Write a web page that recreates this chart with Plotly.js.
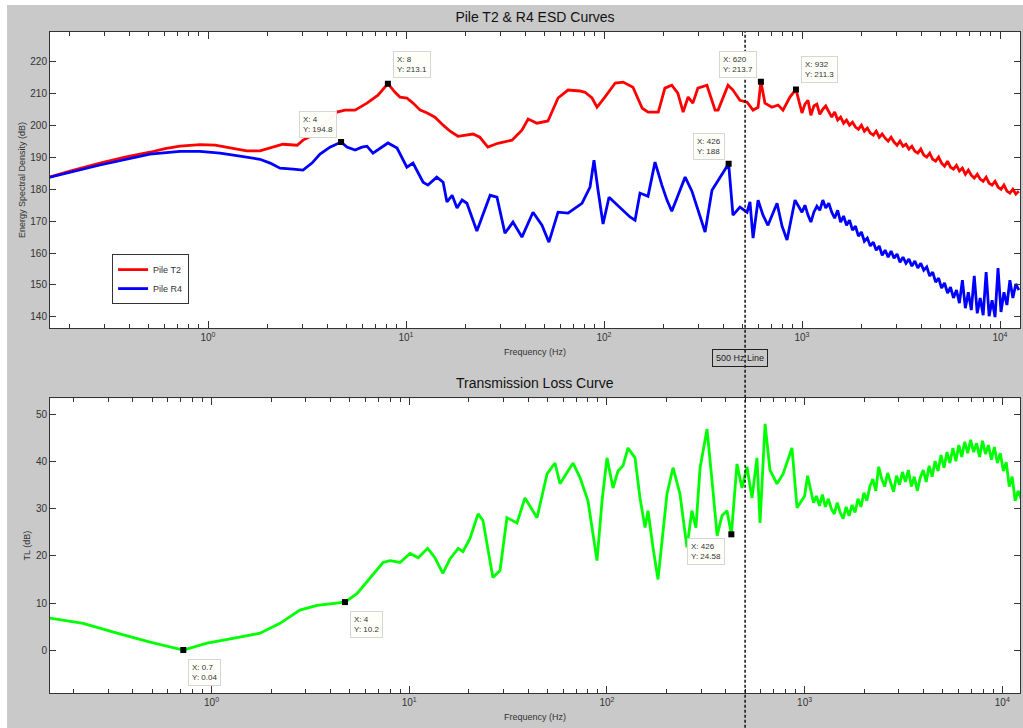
<!DOCTYPE html>
<html>
<head>
<meta charset="utf-8">
<script src="https://cdn.plot.ly/plotly-3.0.1.min.js"></script>
<style>
html, body { margin: 0; padding: 0; background: #ffffff; }
#chart { width: 1023px; height: 728px; }
</style>
</head>
<body>
<div id="chart"></div>
<script>
// ---------------- data ----------------
// Pile T2 energy spectral density, low / mid frequencies (Hz, dB)
const t2FreqLo = [0.159, 0.201, 0.285, 0.381, 0.509, 0.607, 0.722, 0.911, 1.085, 1.34,
  1.57, 1.83, 2.13, 2.39, 2.82, 3.02, 3.35, 4.0, 4.48, 4.92,
  5.53, 6.35, 7.22, 8.1, 8.8, 9.32, 10.1, 10.85, 11.8, 12.8,
  14.0, 15.4, 16.7, 18.3, 20.3, 21.8, 23.6, 25.9, 29.1, 34.3,
  38.5, 41.4, 45.9, 52.1, 58.6, 65.8, 75.6, 80.2, 87.0, 92.2,
  101, 114, 125, 140, 156, 167, 188, 203, 220, 236,
  251, 266, 281, 298, 331, 364, 377, 423, 448, 486,
  528, 566, 600, 620, 650, 705, 757, 802, 869, 932];
const t2EsdLo = [183.8, 185.7, 188.2, 190.1, 191.6, 192.7, 193.5, 194.0, 193.8, 192.9,
  192.0, 192.0, 193.2, 194.1, 193.8, 195.4, 196.8, 201.5, 204.2, 204.8,
  204.8, 207.0, 209.5, 213.1, 210.4, 208.9, 208.6, 207.0, 204.8, 203.9,
  202.6, 200.1, 198.2, 196.6, 197.0, 197.3, 196.3, 193.2, 194.4, 195.4,
  198.5, 202.0, 200.7, 201.4, 208.6, 211.1, 210.8, 210.4, 208.6, 205.7,
  208.9, 213.3, 213.6, 212.0, 205.4, 204.2, 204.2, 211.7, 212.6, 210.1,
  204.2, 208.9, 207.0, 211.7, 212.6, 204.8, 204.8, 212.6, 211.1, 207.9,
  207.3, 204.8, 205.7, 213.7, 207.0, 205.7, 206.4, 204.8, 208.9, 211.3];

// Pile R4 energy spectral density, low / mid frequencies (Hz, dB)
const r4FreqLo = [0.159, 0.285, 0.509, 0.722, 0.911, 1.15, 1.45, 1.83, 2.06, 2.31,
  2.69, 3.02, 3.35, 3.68, 4.13, 4.7, 5.03, 5.53, 5.99, 6.35,
  6.81, 7.39, 8.11, 9.01, 10.1, 10.85, 12.2, 12.9, 14.3, 15.4,
  16.1, 17.1, 18.1, 19.2, 20.3, 22.8, 26.6, 28.8, 31.6, 34.7,
  38.5, 43.8, 48.6, 52.7, 58.6, 65.8, 77.4, 85.0, 89.0, 93.3,
  98.9, 106, 120.5, 135.3, 143.5, 152, 166.8, 181, 196, 208,
  220, 234, 257, 278, 313, 324, 351, 377, 426, 448,
  486, 528, 546, 566, 600, 635, 673, 748, 793, 840,
  922];
const r4EsdLo = [183.8, 187.6, 191.0, 191.9, 191.9, 191.3, 190.4, 189.4, 188.2, 186.6,
  186.3, 186.0, 188.2, 191.0, 193.2, 194.8, 193.2, 192.3, 193.2, 193.5,
  191.3, 192.9, 194.5, 192.9, 186.9, 188.2, 182.2, 181.3, 183.8, 182.2,
  176.0, 178.1, 174.1, 176.6, 175.6, 166.9, 178.1, 177.5, 166.2, 169.7,
  165.0, 172.8, 168.7, 163.4, 172.8, 172.5, 175.6, 180.7, 189.1, 179.7,
  169.1, 177.5, 174.4, 171.3, 170.3, 178.8, 177.8, 188.5, 181.3, 176.6,
  173.1, 177.5, 183.8, 179.4, 169.4, 166.6, 179.7, 182.8, 188.0, 171.9,
  174.4, 172.8, 176.0, 164.7, 176.6, 171.9, 168.7, 175.6, 168.4, 164.1,
  176.6];

// Transmission loss, low / mid frequencies (Hz, dB)
const tlFreqLo = [0.152, 0.224, 0.333, 0.489, 0.72, 0.949, 1.285, 1.76, 2.22, 2.80,
  3.42, 4.12, 4.73, 5.44, 6.34, 7.37, 8.0, 8.98, 10.1, 11.1,
  12.4, 13.5, 14.8, 16.1, 17.7, 18.7, 20.3, 22.3, 23.6, 26.5,
  28.8, 31.2, 35.1, 38.5, 44.3, 49.8, 54.6, 57.9, 67.4, 73.1,
  80.2, 89.1, 94.5, 100.1, 107.4, 113.8, 120.6, 127.9, 138.7, 147.0,
  155.9, 161.4, 171.0, 181.3, 201.4, 216, 234, 254, 269, 282,
  296, 321, 344, 361, 382, 405, 426, 455, 482, 511,
  542, 574, 595, 631, 668, 725, 778, 863, 916];
const tlDbLo = [6.8, 5.7, 3.6, 1.7, 0.04, 1.5, 2.5, 3.6, 5.7, 8.5,
  9.5, 9.9, 10.2, 12.0, 15.4, 18.6, 19.0, 18.6, 20.5, 19.6,
  21.6, 19.6, 16.3, 19.4, 21.6, 20.9, 23.7, 28.9, 27.5, 15.4,
  16.9, 28.1, 27.0, 32.3, 28.1, 37.4, 39.7, 35.3, 39.7, 36.6,
  31.7, 19.0, 31.7, 40.8, 34.4, 38.0, 39.1, 42.9, 40.8, 32.3,
  26.0, 29.6, 21.8, 15.0, 33.2, 38.7, 33.2, 21.8, 29.6, 26.0,
  38.7, 46.9, 33.8, 24.3, 28.5, 29.6, 24.58, 39.5, 34.4, 38.9,
  32.3, 40.8, 27.0, 48.0, 38.2, 35.3, 37.4, 42.9, 30.2];

// High-frequency bins shared by all three curves (Hz)
const freqHi = [1000, 1035, 1072, 1109, 1148, 1189, 1230, 1274, 1318, 1365,
  1413, 1462, 1514, 1567, 1622, 1679, 1738, 1799, 1862, 1928,
  1995, 2065, 2138, 2213, 2291, 2371, 2455, 2541, 2630, 2723,
  2818, 2917, 3020, 3126, 3236, 3350, 3467, 3589, 3715, 3846,
  3981, 4121, 4266, 4416, 4571, 4732, 4898, 5070, 5248, 5433,
  5623, 5821, 6026, 6237, 6457, 6683, 6918, 7161, 7413, 7674,
  7943, 8222, 8511, 8810, 9120, 9441, 9772, 10116, 10471, 10839,
  11220, 11614, 12023, 12445];
const t2EsdHi = [203.9, 206.7, 207.9, 203.2, 206.1, 206.7, 203.5, 205.1, 206.1, 204.2,
  202.6, 204.2, 201.7, 202.6, 200.7, 201.7, 200.1, 201.0, 199.5, 198.8,
  200.1, 198.2, 199.2, 197.6, 197.0, 198.2, 196.3, 197.3, 196.0, 195.1,
  196.3, 194.8, 193.8, 195.1, 193.5, 194.1, 192.6, 193.5, 191.9, 191.3,
  192.6, 190.7, 190.1, 191.3, 189.4, 188.8, 190.1, 188.2, 187.2, 188.8,
  186.9, 186.3, 187.5, 185.7, 186.6, 184.7, 186.0, 184.4, 183.5, 184.7,
  183.2, 182.5, 183.8, 181.9, 181.3, 182.5, 180.7, 180.0, 181.3, 179.4,
  178.8, 180.0, 178.5, 179.4];
const r4EsdHi = [172.8, 175.0, 171.9, 169.7, 172.8, 174.7, 173.4, 176.6, 174.1, 175.6,
  172.8, 170.9, 173.4, 169.7, 171.6, 168.7, 170.3, 167.2, 168.4, 165.3,
  166.6, 163.7, 164.7, 162.2, 163.4, 160.9, 162.2, 159.3, 160.9, 158.7,
  160.6, 158.4, 159.7, 157.1, 158.7, 156.8, 158.1, 155.9, 157.5, 155.3,
  156.8, 154.6, 155.6, 152.8, 154.0, 150.9, 152.1, 149.0, 150.6, 147.4,
  149.3, 145.9, 148.4, 144.3, 151.5, 142.7, 147.7, 142.1, 152.8, 141.1,
  145.9, 140.5, 154.0, 140.2, 145.2, 139.9, 155.3, 141.5, 147.7, 143.7,
  151.5, 145.9, 150.3, 148.4];
const tlDbHi = [32.7, 37.0, 33.8, 31.3, 32.7, 30.6, 33.0, 30.4, 32.1, 30.0,
  28.9, 31.3, 29.2, 27.9, 30.4, 28.5, 30.8, 29.2, 32.1, 30.4,
  33.4, 31.7, 34.7, 36.3, 33.8, 38.9, 36.3, 34.7, 37.6, 35.3,
  33.6, 37.0, 35.1, 37.8, 35.7, 38.2, 34.7, 36.8, 33.8, 36.6,
  38.2, 35.7, 39.1, 36.8, 40.1, 38.0, 41.4, 38.7, 42.0, 39.7,
  42.9, 40.1, 43.5, 41.0, 44.2, 41.8, 44.6, 42.0, 43.9, 41.0,
  44.4, 41.6, 43.5, 40.4, 43.1, 39.7, 41.8, 38.0, 39.9, 34.7,
  36.8, 31.7, 33.8, 32.1];

// Data tips
const esdTipFreq = [8.1, 620, 932, 4.7, 426];
const esdTipVal = [213.1, 213.7, 211.3, 194.8, 188];
const esdTipText = ['X: 8<br>Y: 213.1', 'X: 620<br>Y: 213.7', 'X: 932<br>Y: 211.3', 'X: 4<br>Y: 194.8', 'X: 426<br>Y: 188'];
const tlTipFreq = [0.72, 4.73, 426];
const tlTipVal = [0.04, 10.2, 24.58];
const tlTipText = ['X: 0.7<br>Y: 0.04', 'X: 4<br>Y: 10.2', 'X: 426<br>Y: 24.58'];

// Reference line
const lineFreq = 500;
const lineLabel = '500 Hz Line';

// Axis tick labels
const decadeTicks = [1, 10, 100, 1000, 10000];
const decadeLabels = ['10<sup>0</sup>', '10<sup>1</sup>', '10<sup>2</sup>', '10<sup>3</sup>', '10<sup>4</sup>'];
const esdTicks = [140, 150, 160, 170, 180, 190, 200, 210, 220];
const tlTicks = [0, 10, 20, 30, 40, 50];

// ---------------- styling / layout ----------------
const FONT = 'Liberation Sans, Arial, Helvetica, sans-serif';
const AX = '#333333';
const xRange1 = [-0.798, 4.101];
const xRange2 = [-0.817, 4.0895];

const minorVals = [];
for (let e = -1; e <= 4; e++) for (let m = 2; m <= 9; m++) minorVals.push(m * Math.pow(10, e));

const esdTipPlace = ['ur', 'ul', 'ur', 'ul', 'ul'];
const tlTipPlace = ['dr', 'dr', 'dl'];

function tipAnn(f, v, txt, place, xr, yr) {
  const p = {
    ur: {xanchor: 'left', yanchor: 'bottom', xshift: 5, yshift: 6},
    ul: {xanchor: 'right', yanchor: 'bottom', xshift: -4, yshift: 4},
    dr: {xanchor: 'left', yanchor: 'top', xshift: 5, yshift: -9},
    dl: {xanchor: 'right', yanchor: 'top', xshift: -6, yshift: -4}
  }[place];
  return Object.assign({
    xref: xr, yref: yr, x: Math.log10(f), y: v, text: txt, showarrow: false,
    align: 'left', font: {family: FONT, size: 8, color: '#333'},
    bgcolor: 'rgba(255,255,250,0.97)', bordercolor: '#d6d6d6', borderwidth: 1, borderpad: 3
  }, p);
}

const traces = [
  {x: t2FreqLo.concat(freqHi), y: t2EsdLo.concat(t2EsdHi), xaxis: 'x', yaxis: 'y',
   type: 'scatter', mode: 'lines', name: 'Pile T2', line: {color: '#ff0000', width: 2.8}},
  {x: r4FreqLo.concat(freqHi), y: r4EsdLo.concat(r4EsdHi), xaxis: 'x', yaxis: 'y',
   type: 'scatter', mode: 'lines', name: 'Pile R4', line: {color: '#0000ff', width: 2.8}},
  {x: esdTipFreq, y: esdTipVal, xaxis: 'x', yaxis: 'y', type: 'scatter', mode: 'markers',
   showlegend: false, marker: {symbol: 'square', size: 6, color: '#000'}},
  {x: tlFreqLo.concat(freqHi), y: tlDbLo.concat(tlDbHi), xaxis: 'x2', yaxis: 'y2',
   type: 'scatter', mode: 'lines', name: 'TL', showlegend: false, line: {color: '#00ff00', width: 2.8}},
  {x: tlTipFreq, y: tlTipVal, xaxis: 'x2', yaxis: 'y2', type: 'scatter', mode: 'markers',
   showlegend: false, marker: {symbol: 'square', size: 6, color: '#000'}}
];

function xAxis(range, anchor) {
  return {
    type: 'log', range: range, anchor: anchor, domain: [0, 1],
    tickmode: 'array', tickvals: decadeTicks, ticktext: decadeLabels,
    ticks: 'inside', ticklen: 7, tickwidth: 1, tickcolor: AX,
    showline: true, linecolor: AX, linewidth: 1, mirror: 'ticks',
    showgrid: false, zeroline: false,
    tickfont: {family: FONT, size: 10, color: '#333'},
    minor: {tickmode: 'array', tickvals: minorVals, ticks: 'inside', ticklen: 4, tickwidth: 1, tickcolor: AX, showgrid: false},
    title: {text: 'Frequency (Hz)', font: {family: FONT, size: 9, color: '#333'}, standoff: 6}
  };
}
function yAxis(range, anchor, domain, ticks, title) {
  return {
    range: range, anchor: anchor, domain: domain,
    tickmode: 'array', tickvals: ticks,
    ticks: 'inside', ticklen: 6, tickwidth: 1, tickcolor: AX,
    showline: true, linecolor: AX, linewidth: 1, mirror: 'ticks',
    showgrid: false, zeroline: false,
    tickfont: {family: FONT, size: 10, color: '#333'},
    title: {text: title, font: {family: FONT, size: 9, color: '#333'}, standoff: 3}
  };
}

const linePaperX = (Math.log10(lineFreq) - xRange2[0]) / (xRange2[1] - xRange2[0]);

const annotations = [
  {xref: 'paper', yref: 'paper', x: 0.5, y: 0.469, text: 'Transmission Loss Curve', showarrow: false,
   font: {family: FONT, size: 14, color: '#111'}, xanchor: 'center', yanchor: 'middle'},
  {xref: 'paper', yref: 'paper', x: linePaperX, y: 0.5068, xshift: -5, text: lineLabel, showarrow: false,
   font: {family: FONT, size: 9, color: '#222'}, bordercolor: '#222', borderwidth: 1, borderpad: 3,
   bgcolor: 'rgba(0,0,0,0)', xanchor: 'center', yanchor: 'middle'}
];
esdTipFreq.forEach((f, i) => annotations.push(tipAnn(f, esdTipVal[i], esdTipText[i], esdTipPlace[i], 'x', 'y')));
tlTipFreq.forEach((f, i) => annotations.push(tipAnn(f, tlTipVal[i], tlTipText[i], tlTipPlace[i], 'x2', 'y2')));

const layout = {
  width: 1023, height: 728,
  paper_bgcolor: '#c9c9c9', plot_bgcolor: '#ffffff',
  margin: {l: 50, r: 3, t: 32, b: 35, pad: 0},
  font: {family: FONT, size: 10, color: '#222'},
  title: {text: 'Pile T2 & R4 ESD Curves', font: {family: FONT, size: 14, color: '#111'},
          xref: 'paper', x: 0.5, xanchor: 'center', yref: 'container', y: 0.976, yanchor: 'middle'},
  showlegend: true,
  legend: {x: 0.064, y: 0.664, xanchor: 'left', yanchor: 'top', bgcolor: '#ffffff',
           bordercolor: '#333', borderwidth: 1, font: {family: FONT, size: 9, color: '#333'},
           itemwidth: 30, tracegroupgap: 0},
  hovermode: false,
  xaxis: xAxis(xRange1, 'y'),
  yaxis: yAxis([136.45, 229.3], 'x', [0.552, 1], esdTicks, 'Energy Spectral Density (dB)'),
  xaxis2: xAxis(xRange2, 'y2'),
  yaxis2: yAxis([-9.08, 53.45], 'x2', [0, 0.446], tlTicks, 'TL (dB)'),
  shapes: [
    {type: 'line', xref: 'paper', yref: 'paper', x0: linePaperX, x1: linePaperX, y0: -0.06, y1: 1,
     line: {color: '#111', width: 1.5, dash: '3px,2px'}, layer: 'above'},
    {type: 'rect', xref: 'paper', yref: 'paper', x0: -0.06, x1: -0.0443, y0: -0.06, y1: 1.06,
     line: {width: 0}, fillcolor: '#ffffff', layer: 'above'},
    {type: 'rect', xref: 'paper', yref: 'paper', x0: -0.06, x1: 1.01, y0: 1.0408, y1: 1.06,
     line: {width: 0}, fillcolor: '#ffffff', layer: 'above'}
  ],
  annotations: annotations
};

Plotly.newPlot('chart', traces, layout, {staticPlot: true, displayModeBar: false});
</script>
</body>
</html>
